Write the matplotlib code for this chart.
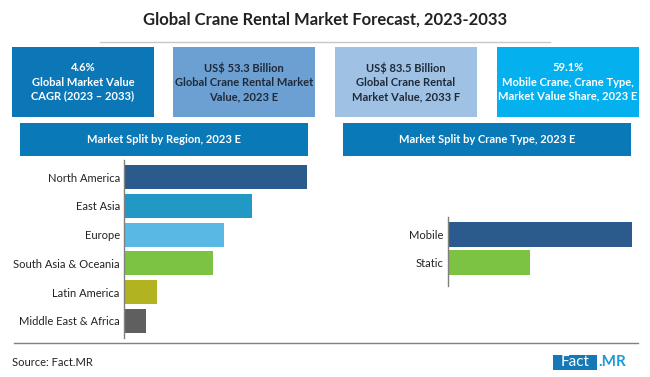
import matplotlib
matplotlib.use("Agg")
from matplotlib import pyplot as plt
from matplotlib.patches import Rectangle

plt.rcParams['font.family'] = ['Lato', 'DejaVu Sans']

# data
regions = ['North America', 'East Asia', 'Europe', 'South Asia & Oceania',
           'Latin America', 'Middle East & Africa']
region_share = [33, 23, 18, 16, 6, 4]
region_colors = ['#2a5b8c', '#2298c5', '#5ab9e4', '#7cc243', '#b2b321', '#5f5f5f']

crane_types = ['Mobile', 'Static']
crane_share = [59.1, 26.3]
crane_colors = ['#2a5b8c', '#7cc243']

kpi_texts = ['4.6%\nGlobal Market Value\nCAGR (2023 \u2013 2033)',
             'US$ 53.3 Billion\nGlobal Crane Rental Market\nValue, 2023 E',
             'US$ 83.5 Billion\nGlobal Crane Rental\nMarket Value, 2033 F',
             '59.1%\nMobile Crane, Crane Type,\nMarket Value Share, 2023 E']
kpi_colors = ['#0c77b6', '#6c9fd2', '#9fc2e4', '#05b0ef']
kpi_text_colors = ['white', '#1e2a3a', '#1e2a3a', 'white']

W, H = 650, 377
fig = plt.figure(figsize=(W / 100, H / 100), dpi=100)


def px(x0, y0, x1, y1):
    # pixel box (top-left origin) -> figure fraction rect
    return [x0 / W, 1 - y1 / H, (x1 - x0) / W, (y1 - y0) / H]


def box(x0, y0, x1, y1, color):
    r = px(x0, y0, x1, y1)
    fig.patches.append(Rectangle((r[0], r[1]), r[2], r[3], transform=fig.transFigure,
                                 facecolor=color, edgecolor='none'))


fig.text(325 / W, 1 - 20 / H, 'Global Crane Rental Market Forecast, 2023-2033',
         ha='center', va='center', fontsize=12, fontweight='bold', color='#222222')
fig.add_artist(plt.Line2D([100 / W, 550 / W], [1 - 42 / H] * 2, transform=fig.transFigure,
                          color='#c8c8c8', lw=1))

# KPI boxes
lefts = [12, 173, 335, 497]
for i, txt in enumerate(kpi_texts):
    x0 = lefts[i]
    box(x0, 47, x0 + 142, 117, kpi_colors[i])
    fig.text((x0 + 71) / W, 1 - 82 / H, txt, ha='center', va='center', fontsize=8,
             fontweight='bold', color=kpi_text_colors[i], linespacing=1.35)

# panel headers
box(20, 123, 308, 156, '#0a79b8')
fig.text(164 / W, 1 - 139.5 / H, 'Market Split by Region, 2023 E', ha='center', va='center',
         fontsize=8, fontweight='bold', color='white')
box(343, 123, 631, 156, '#0a79b8')
fig.text(487 / W, 1 - 139.5 / H, 'Market Split by Crane Type, 2023 E', ha='center', va='center',
         fontsize=8, fontweight='bold', color='white')


def bar_panel(rect, labels, values, colors, height, ylim):
    ax = fig.add_axes(rect)
    pos = list(range(len(labels)))
    ax.barh(pos, values, color=colors, height=height)
    ax.set_xlim(0, max(values) if len(values) > 2 else 59.1)
    ax.set_ylim(*ylim)
    ax.set_yticks(pos)
    ax.set_yticklabels(labels, fontsize=8, color='#222222')
    ax.tick_params(axis='y', length=0, pad=3)
    ax.set_xticks([])
    for s in ['top', 'right', 'bottom']:
        ax.spines[s].set_visible(False)
    ax.spines['left'].set_color('#808080')
    ax.spines['left'].set_linewidth(1)
    return ax


bar_panel(px(124, 160, 307, 338), regions, region_share, region_colors, 0.84, (5.6, -0.6))
bar_panel(px(448, 217, 632, 286), crane_types, crane_share, crane_colors, 0.88, (1.84, -0.625))

# footer
fig.add_artist(plt.Line2D([14 / W, 638 / W], [1 - 343 / H] * 2, transform=fig.transFigure,
                          color='#808080', lw=1))
fig.text(12 / W, 1 - 362 / H, 'Source: Fact.MR', ha='left', va='center', fontsize=8,
         color='#222222')
box(553, 355, 597, 370, '#1479b6')
fig.text(575 / W, 1 - 362.5 / H, 'Fact', ha='center', va='center', fontsize=11,
         color='white')
fig.text(598 / W, 1 - 362.5 / H, '.MR', ha='left', va='center', fontsize=11,
         fontweight='bold', color='#1a9ad7')

fig.savefig('out.png', dpi=100)
